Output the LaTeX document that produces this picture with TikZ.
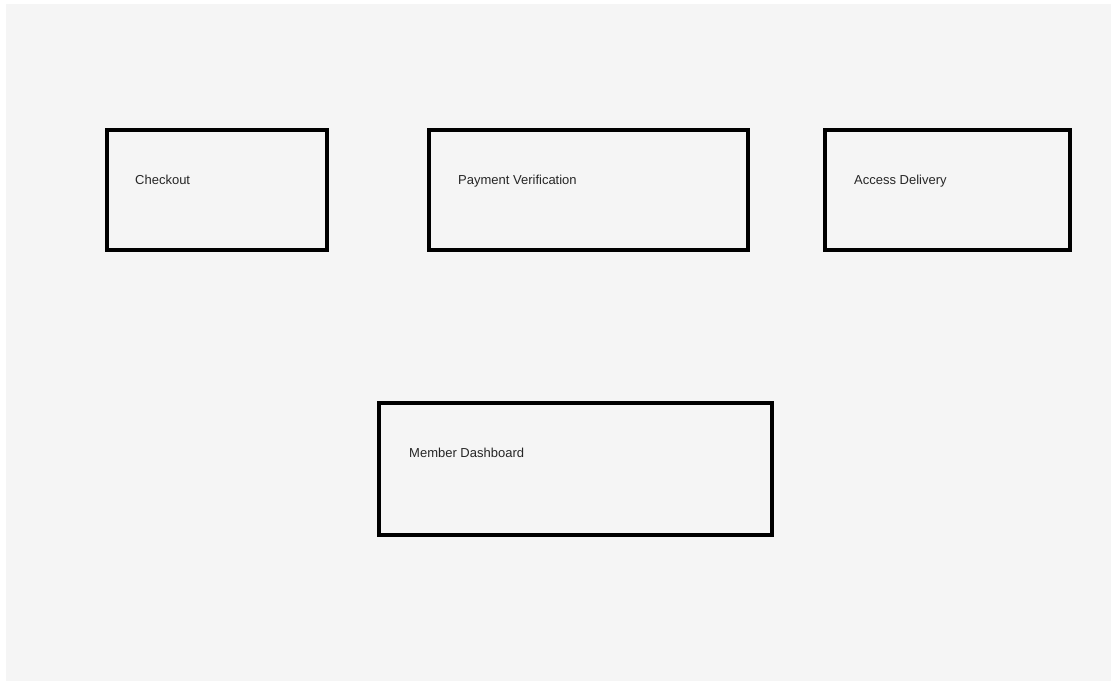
\documentclass[tikz,border=0pt]{standalone}
\usepackage{fontspec}
\setmainfont{Liberation Sans}
\begin{document}
\begin{tikzpicture}[x=1pt,y=-1pt,
  stagebox/.style={draw=black,line width=4pt,fill=none},
  stagelabel/.style={anchor=base west,inner sep=0pt,font=\fontsize{13}{15}\selectfont,text=black!85}]
\useasboundingbox (0,0) rectangle (1111,681);
\fill[white] (0,0) rectangle (1111,681);
\fill[black!4] (6,4) rectangle (1111,681);
\draw[stagebox] (107,130) rectangle (327,250);
\draw[stagebox] (429,130) rectangle (748,250);
\draw[stagebox] (825,130) rectangle (1070,250);
\draw[stagebox] (379,403) rectangle (772,535);
\node[stagelabel] (checkout) at (135,184) {Checkout};
\node[stagelabel] (payment) at (458,184) {Payment Verification};
\node[stagelabel] (access) at (854,184) {Access Delivery};
\node[stagelabel] (member) at (409,457) {Member Dashboard};
\end{tikzpicture}
\end{document}
